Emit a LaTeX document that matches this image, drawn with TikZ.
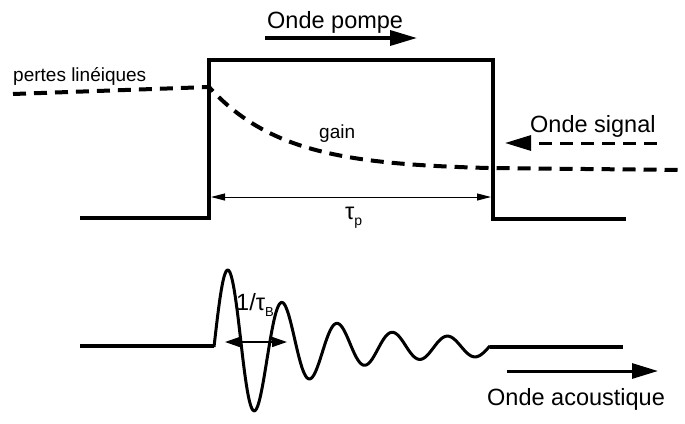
\documentclass[tikz,border=0pt]{standalone}
\usepackage{fontspec}
\setmainfont{Liberation Sans}
\usetikzlibrary{arrows.meta}
\begin{document}
\begin{tikzpicture}[x=1pt,y=-1pt,
  thickline/.style={line width=4pt, line join=miter, line cap=butt},
  waveline/.style={line width=3pt, line join=round},
  dashline/.style={line width=4pt, dash pattern=on 13pt off 8pt},
  bigarrow/.style={line width=3.5pt, -{Triangle[length=27pt,width=15pt]}},
  dimarrow/.style={line width=1pt, {Triangle[length=14pt,width=7pt]}-{Triangle[length=14pt,width=7pt]}},
  biglabel/.style={inner sep=0pt, anchor=base west, font=\fontsize{23.5}{28}\selectfont},
  smalllabel/.style={inner sep=0pt, anchor=base west, font=\fontsize{19}{23}\selectfont}
]
\useasboundingbox (0,0) rectangle (685,423);

% pump pulse
\coordinate (pl0) at (80,218);
\coordinate (pl1) at (209,218);
\coordinate (pt0) at (209,60);
\coordinate (pt1) at (493,60);
\coordinate (pr0) at (493,219);
\coordinate (pr1) at (626,219);
\draw[thickline] (pl0) -- (pl1) -- (pt0) -- (pt1) -- (pr0) -- (pr1);

% pump arrow and label
\coordinate (pa0) at (265,38);
\coordinate (pa1) at (417,38);
\draw[bigarrow] (pa0) -- (pa1);
\node[biglabel] (pompe) at (267,28) {Onde pompe};

% losses / gain dashed curve
\coordinate (d0) at (13,94);
\coordinate (d1) at (209,87);
\coordinate (d3) at (685,170);
\draw[dashline] (d0) -- (d1)
  -- plot[domain=209:490, samples=60] (\x, {170 - 83*exp(-(\x-209)/75)})
  -- (d3);
\node[smalllabel] (pertes) at (13,81) {pertes linéiques};
\node[smalllabel] (gain) at (319,138) {gain};

% signal
\node[biglabel] (signal) at (530,132) {Onde signal};
\coordinate (s0) at (657,143);
\coordinate (s1) at (505,143);
\draw[line width=3pt, dash pattern=on 13pt off 8pt, -{Triangle[length=26pt,width=15pt]}] (s0) -- (s1);

% tau_p dimension
\coordinate (tp0) at (211,197);
\coordinate (tp1) at (491,197);
\draw[dimarrow] (tp0) -- (tp1);
\node[biglabel] (taup) at (345,219) {τ\raisebox{-6pt}{\fontsize{14}{14}\selectfont p}};

% acoustic wave
\coordinate (a0) at (80,346);
\coordinate (a1) at (214,346);
\draw[thickline] (a0) -- (a1);
\draw[waveline] plot[domain=214:490, samples=300]
  (\x, {347 - (8 + 69*exp(-max(\x-241,0)/65))*sin((\x-214)*6.545454)});
\coordinate (a2) at (490,347);
\coordinate (a3) at (623,347);
\draw[thickline] (a2) -- (a3);

% 1/tau_B
\coordinate (b0) at (225,342);
\coordinate (b1) at (287,342);
\draw[line width=1.5pt, {Triangle[length=15pt,width=10pt]}-{Triangle[length=15pt,width=10pt]}] (b0) -- (b1);
\node[biglabel] (taub) at (236,310) {1/τ\raisebox{-6pt}{\fontsize{13}{13}\selectfont B}};

% acoustic arrow
\coordinate (c0) at (507,371);
\coordinate (c1) at (658,371);
\draw[line width=3pt, -{Triangle[length=26pt,width=15pt]}] (c0) -- (c1);
\node[biglabel] (acoustique) at (487,405) {Onde acoustique};
\end{tikzpicture}
\end{document}
